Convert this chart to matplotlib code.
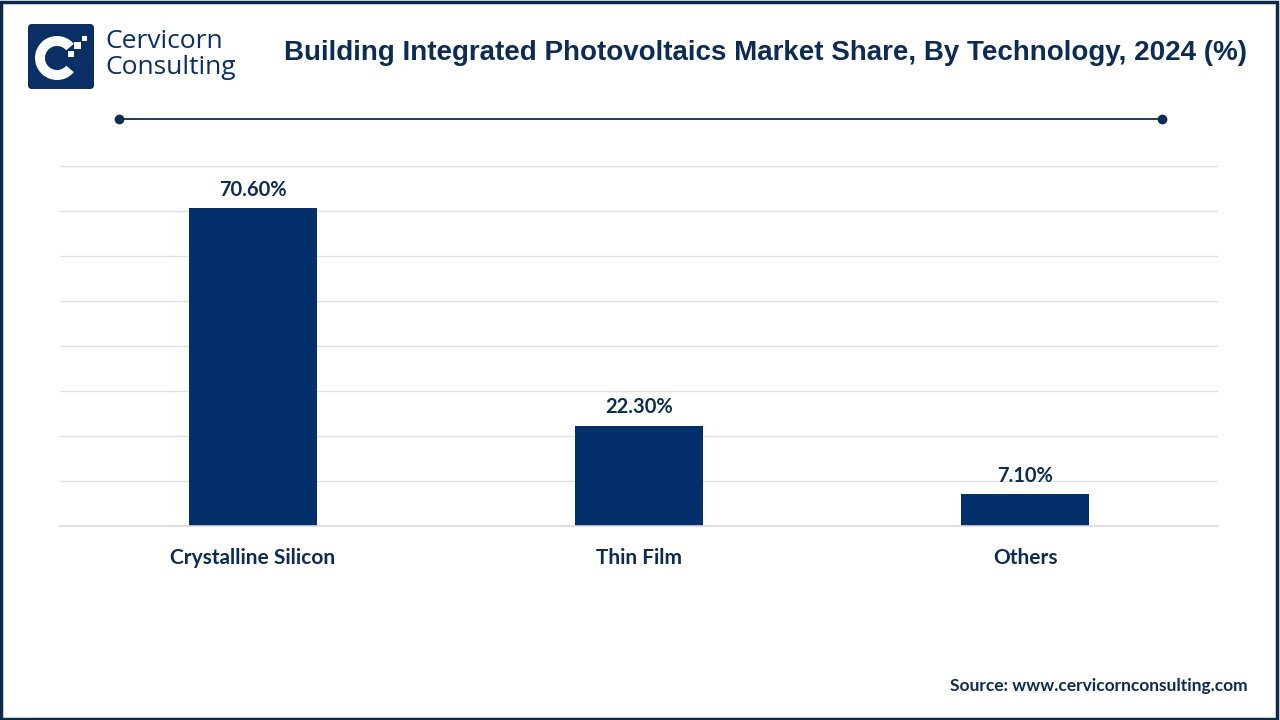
import matplotlib.pyplot as plt
from matplotlib.patches import FancyBboxPatch, Wedge, Rectangle

# data
categories = ["Crystalline Silicon", "Thin Film", "Others"]
shares = [70.6, 22.3, 7.1]
value_labels = ["70.60%", "22.30%", "7.10%"]

title = "Building Integrated Photovoltaics Market Share, By Technology, 2024 (%)"
source = "Source: www.cervicornconsulting.com"

navy = "#03306a"
text_navy = "#0c2c55"

fig = plt.figure(figsize=(12.8, 7.2), dpi=100)
fig.patch.set_facecolor("white")

# outer frame
fig.add_artist(Rectangle((0.001, 0.002), 0.997, 0.995, transform=fig.transFigure,
                         fill=False, edgecolor="#0d2a4a", linewidth=2.5))

# logo
logo = fig.add_axes([27 / 1280, 1 - 90 / 720, 68 / 1280, 67 / 720])
logo.set_xlim(0, 68)
logo.set_ylim(0, 67)
logo.axis("off")
logo.add_patch(FancyBboxPatch((1, 1), 66, 65, boxstyle="round,pad=0,rounding_size=4",
                              facecolor="#0a2f64", edgecolor="none"))
logo.add_patch(Wedge((30, 32), 22, 40, 320, width=10, facecolor="white", edgecolor="none"))
logo.add_patch(Rectangle((47, 41), 7, 7, facecolor="white", edgecolor="none"))
logo.add_patch(Rectangle((55, 49), 5, 5, facecolor="white", edgecolor="none"))
logo.add_patch(Rectangle((41, 33), 6, 6, facecolor="white", edgecolor="none"))

fig.text(105 / 1280, 1 - 42 / 720, "Cervicorn", fontsize=19, color="#0a2f64",
         family="Open Sans", va="center", ha="left")
fig.text(105 / 1280, 1 - 67 / 720, "Consulting", fontsize=19, color="#0a2f64",
         family="Open Sans", va="center", ha="left")

# title
fig.text(765 / 1280, 1 - 53 / 720, title, fontsize=20, fontweight="bold",
         color=text_navy, family="Liberation Sans", ha="center", va="center")

# separator line with end dots
fig.add_artist(plt.Line2D([119 / 1280, 1162 / 1280], [1 - 119 / 720, 1 - 119 / 720],
                          transform=fig.transFigure, color=text_navy, linewidth=1.3,
                          marker="o", markersize=6, markevery=[0, 1]))

# chart
ax = fig.add_axes([60 / 1280, 194 / 720, 1158 / 1280, 360 / 720])
x = list(range(len(categories)))
ax.bar(x, shares, width=0.33, color=navy, zorder=3)
ax.set_xlim(-0.5, 2.5)
ax.set_ylim(0, 80)
ax.set_yticks(range(0, 81, 10))
ax.grid(axis="y", color="#e0e0e0", linewidth=1, zorder=0)
ax.axhline(0, color="#d9d9d9", linewidth=1.2, zorder=4, clip_on=False)
ax.tick_params(axis="y", left=False, labelleft=False)
ax.tick_params(axis="x", bottom=False)
for s in ax.spines.values():
    s.set_visible(False)
ax.set_xticks(x)
ax.set_xticklabels(categories, fontsize=15, fontweight="bold", color=text_navy, family="Lato")
ax.tick_params(axis="x", pad=12)

for xi, v, lab in zip(x, shares, value_labels):
    ax.annotate(lab, (xi, v), xytext=(0, 6), textcoords="offset points",
                ha="center", va="bottom", fontsize=14.5, fontweight="bold",
                color=text_navy, family="Lato")

fig.text(1248 / 1280, 1 - 686 / 720, source, fontsize=12.5, fontweight="bold",
         color=text_navy, family="Lato", ha="right", va="center")

fig.savefig("out.png", dpi=100, facecolor="white")
